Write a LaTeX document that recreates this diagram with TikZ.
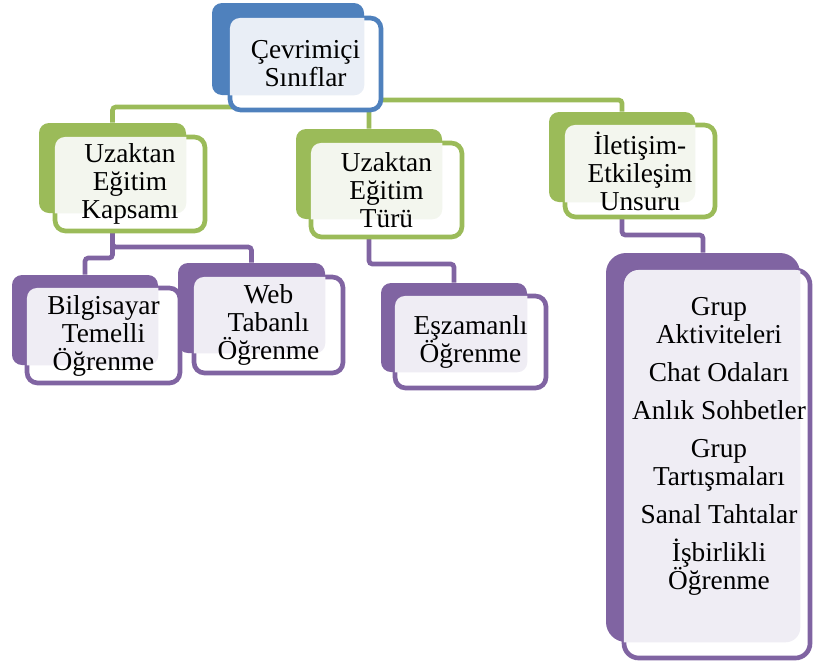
\documentclass[tikz,border=0pt]{standalone}
\usepackage{fontspec}
\setmainfont{Liberation Serif}
\usetikzlibrary{fit,backgrounds}

\definecolor{blueA}{HTML}{4F81BD}
\definecolor{blueT}{HTML}{E9EEF6}
\definecolor{greenA}{HTML}{9BBB59}
\definecolor{greenT}{HTML}{F3F6EE}
\definecolor{purpA}{HTML}{8064A2}
\definecolor{purpT}{HTML}{EFEDF4}

% light panel where the back card shows through the front card
\newcommand\tintfill[4]{% front node, back node, tint colour, radius
  \begin{scope}
    \clip[rounded corners=#4] ([shift={(2.3,2.3)}]#1.north west) rectangle ([shift={(-2.3,-2.3)}]#1.south east);
    \fill[#3, rounded corners=#4] (#2.north west) rectangle (#2.south east);
  \end{scope}}

\begin{document}
\begin{tikzpicture}[x=0.75pt,y=-0.75pt,
  backbox/.style={fill=#1, inner sep=0pt, rounded corners=7.5pt},
  frontbox/.style={draw=#1, fill=white, line width=3.5pt, inner sep=0pt, rounded corners=8pt},
  txt/.style={font=\fontsize{20.5}{21}\selectfont, align=center, inner sep=0pt},
  link/.style={draw=#1, line width=3.5pt, rounded corners=2.5pt},
]
\useasboundingbox (0,0) rectangle (813,668);

% root
\node[backbox=blueA, fit={(212,3) (364,95)}] (rootB) {};
\node[frontbox=blueA, fit={(230,18) (381,110)}] (rootF) {};
\tintfill{rootF}{rootB}{blueT}{7.5pt}
\node[txt] (rootT) at (rootF.center) {Çevrimiçi\\Sınıflar};

% first level
\node[backbox=greenA, fit={(39,123) (186,213)}] (uekB) {};
\node[frontbox=greenA, fit={(55,137) (205,231)}] (uekF) {};
\tintfill{uekF}{uekB}{greenT}{7.5pt}
\node[txt] (uekT) at (uekF.center) {Uzaktan\\Eğitim\\Kapsamı};

\node[backbox=greenA, fit={(296,129) (442,219)}] (uetB) {};
\node[frontbox=greenA, fit={(311,143) (462,237)}] (uetF) {};
\tintfill{uetF}{uetB}{greenT}{7.5pt}
\node[txt] (uetT) at (uetF.center) {Uzaktan\\Eğitim\\Türü};

\node[backbox=greenA, fit={(549,112) (695,202)}] (ieuB) {};
\node[frontbox=greenA, fit={(565,125) (715,217)}] (ieuF) {};
\tintfill{ieuF}{ieuB}{greenT}{7.5pt}
\node[txt] (ieuT) at (ieuF.center) {İletişim-\\Etkileşim\\Unsuru};

% second level
\node[backbox=purpA, fit={(12,275) (158,365)}] (btoB) {};
\node[frontbox=purpA, fit={(27,288) (180,383)}] (btoF) {};
\tintfill{btoF}{btoB}{purpT}{7.5pt}
\node[txt] (btoT) at (btoF.center) {Bilgisayar\\Temelli\\Öğrenme};

\node[backbox=purpA, fit={(178,263) (325,353)}] (wtoB) {};
\node[frontbox=purpA, fit={(194,277) (343,373)}] (wtoF) {};
\tintfill{wtoF}{wtoB}{purpT}{7.5pt}
\node[txt] (wtoT) at (wtoF.center) {Web\\Tabanlı\\Öğrenme};

\node[backbox=purpA, fit={(381,283) (527,372)}] (eoB) {};
\node[frontbox=purpA, fit={(395,296) (546,388)}] (eoF) {};
\tintfill{eoF}{eoB}{purpT}{7.5pt}
\node[txt] (eoT) at (eoF.center) {Eşzamanlı\\Öğrenme};

\node[backbox=purpA, rounded corners=15pt, fit={(606,253) (800,642)}] (bigB) {};
\node[frontbox=purpA, rounded corners=11pt, fit={(624,270) (810,658)}] (bigF) {};
\tintfill{bigF}{bigB}{purpT}{11pt}
\node[txt, anchor=north] (bigT) at (719,297) {Grup\\Aktiviteleri\\[7.5pt]Chat Odaları\\[7.5pt]Anlık Sohbetler\\[7.5pt]Grup\\Tartışmaları\\[7.5pt]Sanal Tahtalar\\[7.5pt]İşbirlikli\\Öğrenme};

% connectors behind the cards
\begin{scope}[on background layer]
  \draw[link=greenA] (rootB.center) -- ++(0,58) -| (uekB.north);
  \draw[link=greenA] (rootB.center) -- ++(0,51) -| (uetB.north);
  \draw[link=greenA] (rootB.center) -- ++(0,51) -| (ieuB.north);
  \draw[link=purpA] (uekB.center) -- ++(0,79) -| (wtoB.north);
  \draw[link=purpA] (uekB.center) -- ++(0,90) -| (btoB.north);
  \draw[link=purpA] (uetB.center) -- ++(0,90) -| (eoB.north);
  \draw[link=purpA] (ieuB.center) -- ++(0,78) -| (bigB.north);
\end{scope}
\end{tikzpicture}
\end{document}
